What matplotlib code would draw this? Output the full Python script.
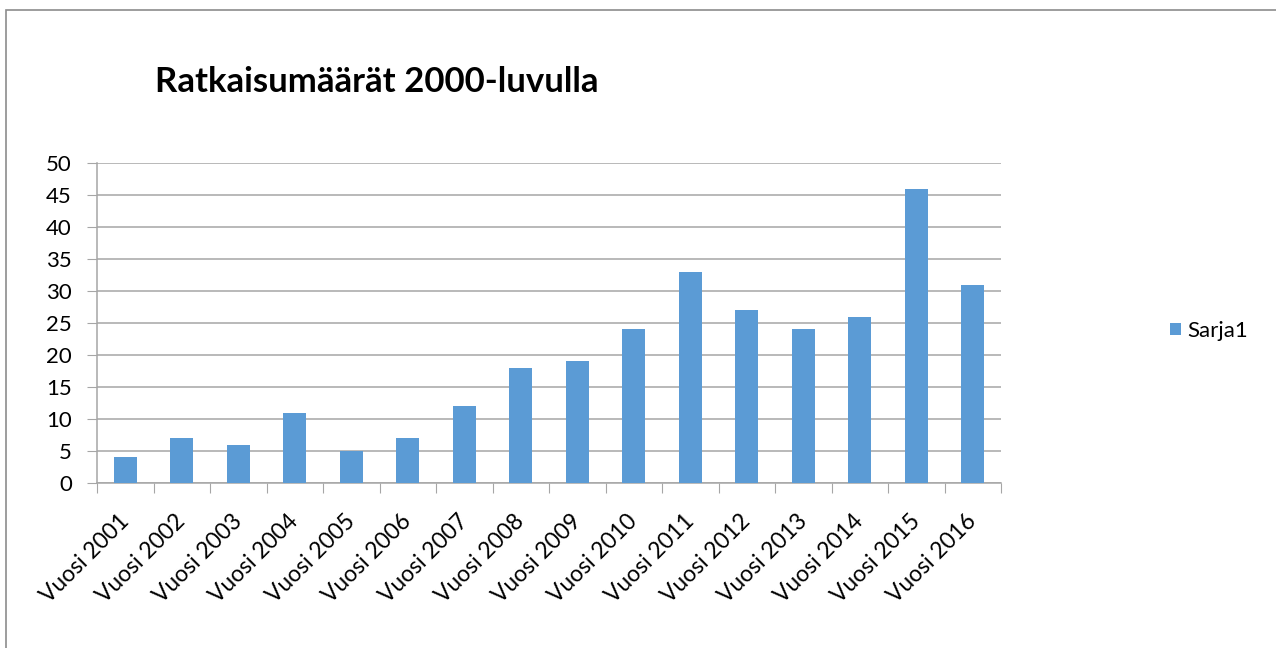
import matplotlib
matplotlib.use("Agg")
import matplotlib.pyplot as plt
from matplotlib.patches import Rectangle, Patch
from matplotlib.transforms import ScaledTranslation

categories = ["Vuosi 2001", "Vuosi 2002", "Vuosi 2003", "Vuosi 2004", "Vuosi 2005",
              "Vuosi 2006", "Vuosi 2007", "Vuosi 2008", "Vuosi 2009", "Vuosi 2010",
              "Vuosi 2011", "Vuosi 2012", "Vuosi 2013", "Vuosi 2014", "Vuosi 2015",
              "Vuosi 2016"]
values = [4, 7, 6, 11, 5, 7, 12, 18, 19, 24, 33, 27, 24, 26, 46, 31]
yticks = [0, 5, 10, 15, 20, 25, 30, 35, 40, 45, 50]
series_name = "Sarja1"
title = "Ratkaisumäärät 2000-luvulla"

plt.rcParams['font.family'] = ['Lato', 'DejaVu Sans']

W, H = 1276, 648
fig = plt.figure(figsize=(W / 100, H / 100), dpi=100)
fig.patch.set_facecolor("white")

# outer chart border
fig.add_artist(Rectangle((6 / W, -0.1), 1.2, 1 - 10 / H + 0.1, transform=fig.transFigure,
                         fill=False, edgecolor="#8c8c8c", linewidth=1.2))

x0, x1 = 97, 1001
y0, y1 = 163, 483
ax = fig.add_axes([x0 / W, 1 - y1 / H, (x1 - x0) / W, (y1 - y0) / H])

n = len(categories)
xs = list(range(n))
color = "#5B9BD5"
ax.bar(xs, values, width=0.4, color=color, zorder=3)
ax.set_xlim(-0.5, n - 0.5)
ax.set_ylim(0, 50)
ax.set_yticks(yticks)
ax.set_yticklabels([str(v) for v in yticks], fontsize=16)
ax.yaxis.grid(True, color="#a6a6a6", linewidth=1.1, zorder=0)
ax.tick_params(axis="y", length=7, color="#a6a6a6", pad=11)

ax.set_xticks([i - 0.5 for i in range(n + 1)], minor=False)
ax.set_xticklabels([])
ax.tick_params(axis="x", length=7, color="#a6a6a6")
ax.set_xticks(xs, minor=True)
ax.set_xticklabels(categories, minor=True, rotation=45, ha="right",
                   rotation_mode="anchor", fontsize=16.5)
ax.tick_params(axis="x", which="minor", length=0, pad=20)
shift = ScaledTranslation(-7 / 100, 0, fig.dpi_scale_trans)
for lbl in ax.get_xticklabels(minor=True):
    lbl.set_transform(lbl.get_transform() + shift)

for side in ["top", "right"]:
    ax.spines[side].set_visible(False)
for side in ["left", "bottom"]:
    ax.spines[side].set_color("#a6a6a6")
    ax.spines[side].set_linewidth(1.1)

fig.text(155 / W, 1 - 82 / H, title, fontsize=25, fontweight="bold",
         ha="left", va="center")

fig.legend(handles=[Patch(facecolor=color, label=series_name)],
           loc="center left", bbox_to_anchor=(1150 / W, 1 - 331 / H),
           frameon=False, fontsize=16, handlelength=0.5, handleheight=0.5,
           handletextpad=0.3)

fig.savefig("out.png", dpi=100, facecolor="white")
